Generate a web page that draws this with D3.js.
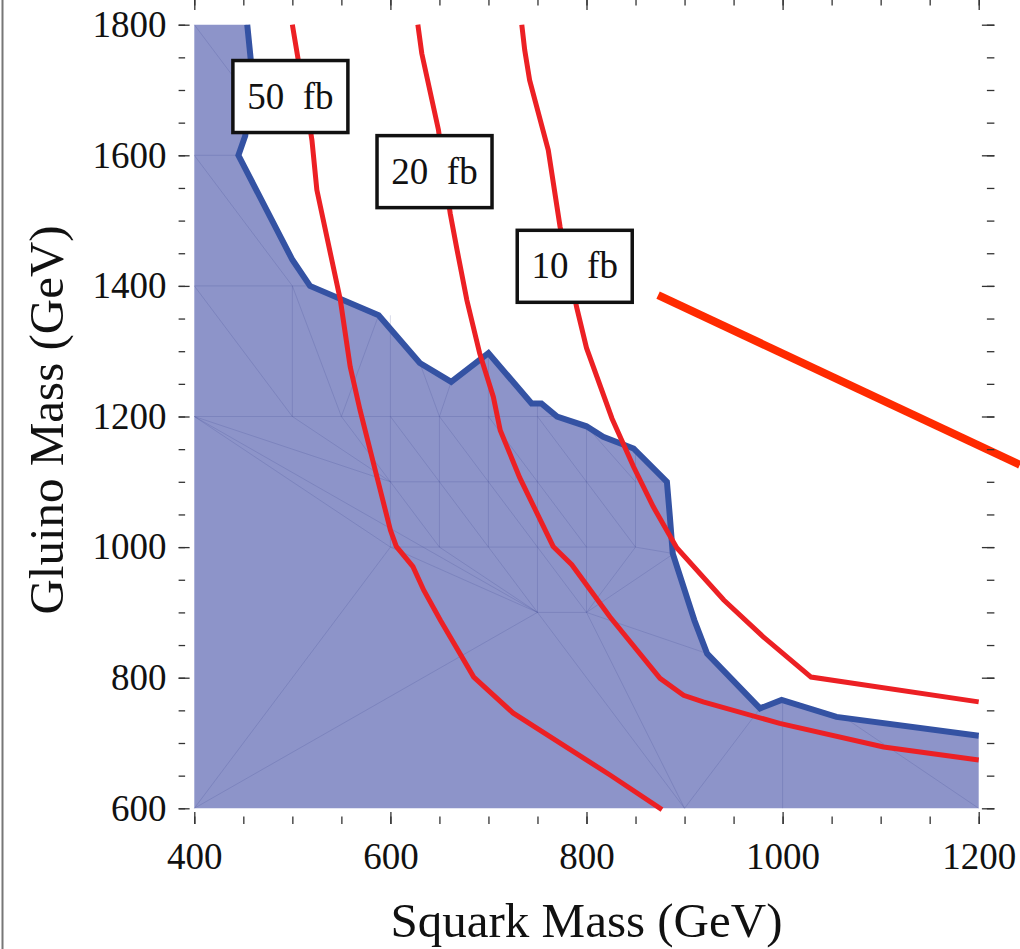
<!DOCTYPE html>
<html>
<head>
<meta charset="utf-8">
<script src="https://cdnjs.cloudflare.com/ajax/libs/d3/7.8.5/d3.min.js"></script>
<style>
body { margin: 0; background: #fff; }
svg { display: block; }
</style>
</head>
<body>
<svg width="1020" height="949"></svg>
<script>
var xTicks = [400, 600, 800, 1000, 1200];
var yTicks = [600, 800, 1000, 1200, 1400, 1600, 1800];

// blue exclusion limit, [squark mass, gluino mass] in GeV
var exclusionLimit = [
  [454, 1800], [458, 1740], [452, 1630], [445, 1600], [500, 1440], [518, 1400],
  [588, 1355], [630, 1282], [662, 1253], [700, 1297], [744, 1220], [754, 1220],
  [770, 1200], [800, 1185], [817, 1169], [848, 1151], [882, 1100], [885, 1047],
  [888, 990], [910, 888], [923, 837], [977, 753], [999, 766], [1055, 740], [1200, 711]
];

// cross section contours
var xsec50 = [
  [500, 1800], [506, 1746], [513, 1690], [520, 1623], [525, 1547], [549, 1378],
  [559, 1276], [569, 1210], [585, 1115], [600, 1026], [606, 1001], [623, 970],
  [634, 934], [651, 888], [685, 801], [725, 746], [824, 651], [877, 598]
];
var xsec20 = [
  [628, 1800], [632, 1756], [649, 1639], [661, 1511], [668, 1455], [678, 1378],
  [691, 1297], [705, 1230], [712, 1179], [732, 1106], [766, 1001], [785, 973],
  [824, 893], [875, 799], [899, 773], [919, 763], [997, 730], [1103, 694], [1200, 674]
];
var xsec10 = [
  [734, 1800], [737, 1761], [742, 1715], [761, 1608], [773, 1491], [790, 1367],
  [800, 1305], [826, 1197], [848, 1123], [868, 1062], [892, 999], [940, 919],
  [980, 863], [1029, 801], [1200, 763]
];

var contourLabels = ["50  fb", "20  fb", "10  fb"];
var labelSquark = [498, 645, 788];
var labelGluino = [1690, 1575, 1430];

var pointerLine = [[873, 1386], [1242, 1126]];

// interpolation mesh visible inside the excluded region
var meshEdges = [
  [400, 1800, 450, 1700], [400, 1600, 445, 1600], [400, 1600, 500, 1400],
  [400, 1400, 518, 1400], [400, 1400, 500, 1200], [500, 1400, 500, 1200],
  [500, 1400, 550, 1200], [550, 1200, 588, 1355], [600, 1355, 600, 1000],
  [630, 1282, 650, 1200], [662, 1253, 650, 1200], [650, 1200, 650, 1000],
  [700, 1297, 700, 1000], [750, 1220, 750, 900], [800, 1185, 800, 900],
  [850, 1151, 850, 1000], [400, 1200, 770, 1200], [600, 1100, 882, 1100],
  [600, 1000, 850, 1000], [750, 900, 800, 900],
  [400, 1200, 600, 1100], [500, 1200, 600, 1100], [550, 1200, 600, 1100],
  [400, 1200, 600, 1000], [400, 1200, 750, 900],
  [600, 1200, 650, 1100], [650, 1200, 700, 1100], [700, 1200, 750, 1100],
  [750, 1200, 800, 1100], [800, 1185, 850, 1100],
  [600, 1100, 650, 1000], [650, 1100, 700, 1000], [700, 1100, 750, 1000],
  [750, 1100, 800, 1000], [800, 1100, 850, 1000], [850, 1000, 889, 990],
  [600, 1000, 750, 900], [650, 1000, 750, 900], [700, 1000, 750, 900],
  [750, 1000, 800, 900], [850, 1000, 800, 900], [800, 900, 889, 990],
  [400, 600, 600, 1000], [400, 600, 750, 900],
  [750, 900, 900, 600], [800, 900, 900, 600], [800, 900, 923, 837],
  [900, 600, 977, 753], [1000, 600, 1000, 766], [1062, 740, 1200, 600]
];

var svg = d3.select("svg");
var serif = "'Liberation Serif', 'Times New Roman', serif";

var x = d3.scaleLinear().domain([400, 1200]).range([194.3, 978.7]),
    y = d3.scaleLinear().domain([600, 1800]).range([808.3, 24.7]);

var line = d3.line()
  .x(function(d) { return x(d[0]); })
  .y(function(d) { return y(d[1]); });

// thin border at the very left of the picture
svg.append("line")
  .attr("x1", 2.5).attr("x2", 2.5).attr("y1", 0).attr("y2", 949)
  .attr("stroke", "#777").attr("stroke-width", 2);

// excluded region
var region = [[400, 600], [400, 1800]].concat(exclusionLimit).concat([[1200, 600]]);
svg.append("path")
  .attr("d", line(region) + "Z")
  .attr("fill", "#8d94c9");

svg.append("g").selectAll("line")
  .data(meshEdges)
  .enter().append("line")
  .attr("x1", function(d) { return x(d[0]); })
  .attr("y1", function(d) { return y(d[1]); })
  .attr("x2", function(d) { return x(d[2]); })
  .attr("y2", function(d) { return y(d[3]); })
  .attr("stroke", "#3c4690")
  .attr("stroke-opacity", 0.2)
  .attr("stroke-width", 1);

svg.append("path")
  .attr("d", line(exclusionLimit))
  .attr("fill", "none")
  .attr("stroke", "#3452a3")
  .attr("stroke-width", 6);

svg.selectAll(".xsec")
  .data([xsec50, xsec20, xsec10])
  .enter().append("path")
  .attr("class", "xsec")
  .attr("d", line)
  .attr("fill", "none")
  .attr("stroke", "#ec2024")
  .attr("stroke-width", 5);

svg.append("path")
  .attr("d", line(pointerLine))
  .attr("fill", "none")
  .attr("stroke", "#ff2a00")
  .attr("stroke-width", 8);

var labels = svg.selectAll(".clabel")
  .data(contourLabels)
  .enter().append("g")
  .attr("class", "clabel")
  .attr("transform", function(d, i) { return "translate(" + x(labelSquark[i]) + "," + y(labelGluino[i]) + ")"; });

labels.append("rect")
  .attr("x", -57.5).attr("y", -36).attr("width", 115).attr("height", 72)
  .attr("fill", "#fff")
  .attr("stroke", "#111")
  .attr("stroke-width", 3.5);

labels.append("text")
  .attr("y", 12)
  .attr("text-anchor", "middle")
  .style("white-space", "pre")
  .style("font", "37px " + serif)
  .attr("fill", "#111")
  .text(function(d) { return d; });

// frame and ticks
var left = x(384), right = x(1216), top = y(1824), bottom = y(576);
var minorX = d3.range(400, 1201, 50), minorY = d3.range(600, 1801, 50);

function styleAxis(g) {
  g.select(".domain").remove();
  g.attr("color", "#333");
  g.selectAll("line").attr("stroke-width", 1.3);
  g.selectAll("text").style("font", "37px " + serif).attr("fill", "#111");
}

svg.append("g").attr("transform", "translate(0," + bottom + ")")
  .call(d3.axisBottom(x).tickValues(minorX).tickSize(-7.5).tickFormat(""))
  .call(styleAxis);
svg.append("g").attr("transform", "translate(0," + bottom + ")")
  .call(d3.axisBottom(x).tickValues(xTicks).tickSize(-12).tickPadding(19).tickFormat(d3.format("d")))
  .call(styleAxis);

svg.append("g").attr("transform", "translate(" + left + ",0)")
  .call(d3.axisLeft(y).tickValues(minorY).tickSize(-6.5).tickFormat(""))
  .call(styleAxis);
svg.append("g").attr("transform", "translate(" + left + ",0)")
  .call(d3.axisLeft(y).tickValues(yTicks).tickSize(-11).tickPadding(12).tickFormat(d3.format("d")))
  .call(styleAxis);

svg.append("g").attr("transform", "translate(0," + top + ")")
  .call(d3.axisTop(x).tickValues(minorX).tickSize(-5.5).tickFormat(""))
  .call(styleAxis);
svg.append("g").attr("transform", "translate(0," + top + ")")
  .call(d3.axisTop(x).tickValues(xTicks).tickSize(-10).tickFormat(""))
  .call(styleAxis);

svg.append("g").attr("transform", "translate(" + right + ",0)")
  .call(d3.axisRight(y).tickValues(minorY).tickSize(-7.5).tickFormat(""))
  .call(styleAxis);
svg.append("g").attr("transform", "translate(" + right + ",0)")
  .call(d3.axisRight(y).tickValues(yTicks).tickSize(-12.5).tickFormat(""))
  .call(styleAxis);

svg.append("rect")
  .attr("x", left).attr("y", top)
  .attr("width", right - left).attr("height", bottom - top)
  .attr("fill", "none")
  .attr("stroke", "#444")
  .attr("stroke-width", 1.5);

svg.append("text")
  .attr("x", (x(400) + x(1200)) / 2).attr("y", 937)
  .attr("text-anchor", "middle")
  .style("font", "49px " + serif)
  .attr("fill", "#111")
  .text("Squark Mass (GeV)");

svg.append("text")
  .attr("transform", "translate(63," + 420 + ") rotate(-90)")
  .attr("text-anchor", "middle")
  .style("font", "49px " + serif)
  .attr("fill", "#111")
  .text("Gluino Mass (GeV)");
</script>
</body>
</html>
